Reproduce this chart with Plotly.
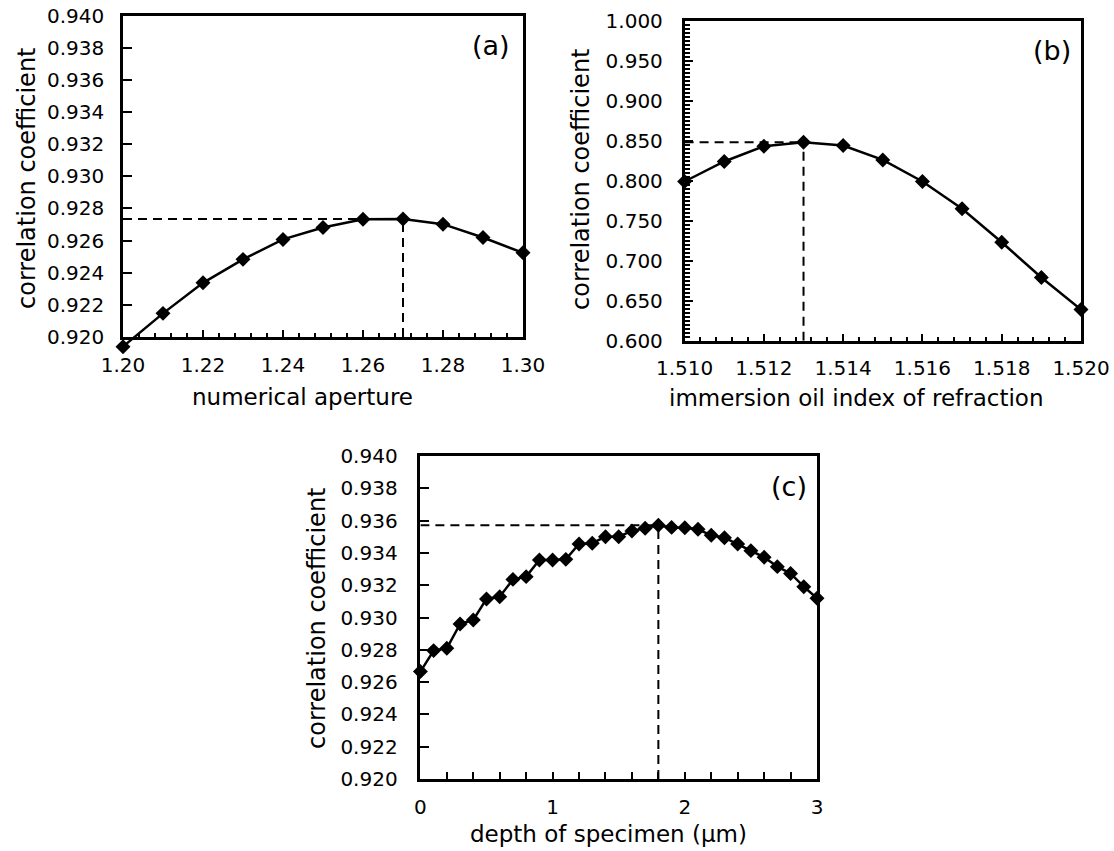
import plotly.graph_objects as go

# ---------------- data ----------------
na_x = [1.20, 1.21, 1.22, 1.23, 1.24, 1.25, 1.26, 1.27, 1.28, 1.29, 1.30]
na_r = [0.9194, 0.92147, 0.92337, 0.92483, 0.92607, 0.92681, 0.92733, 0.92734, 0.92702, 0.92619, 0.92524]
na_opt = (1.27, 0.92734)

oil_x = [1.510, 1.511, 1.512, 1.513, 1.514, 1.515, 1.516, 1.517, 1.518, 1.519, 1.520]
oil_r = [0.799, 0.824, 0.843, 0.848, 0.844, 0.826, 0.799, 0.765, 0.723, 0.679, 0.639]
oil_opt = (1.513, 0.848)

depth_x = [0.0, 0.1, 0.2, 0.3, 0.4, 0.5, 0.6, 0.7, 0.8, 0.9, 1.0,
           1.1, 1.2, 1.3, 1.4, 1.5, 1.6, 1.7, 1.8, 1.9, 2.0,
           2.1, 2.2, 2.3, 2.4, 2.5, 2.6, 2.7, 2.8, 2.9, 3.0]
depth_r = [0.92665, 0.92795, 0.92809, 0.9296, 0.92985, 0.93115, 0.93129, 0.93236, 0.93253, 0.93356, 0.93356,
           0.9336, 0.93455, 0.9346, 0.9350, 0.9350, 0.93536, 0.93552, 0.93571, 0.93558, 0.93556,
           0.93546, 0.93509, 0.93494, 0.93455, 0.93414, 0.93373, 0.93315, 0.93273, 0.93191, 0.93119]
depth_opt = (1.8, 0.93571)

panel_labels = ["(a)", "(b)", "(c)"]
x_titles = ["numerical aperture", "immersion oil index of refraction", "depth of specimen (µm)"]
y_title = "correlation coefficient"

# ---------------- layout helpers ----------------
W, H = 1114, 851
FONT = "DejaVu Sans"


def px_x(v):
    return v / W


def px_y(v):
    return 1 - v / H


# panel boxes in window pixels (left, right, top, bottom)
box_a = (123, 523, 15.5, 337)
box_b = (684.6, 1081, 20.7, 340.7)
box_c = (420.4, 817, 456, 779)
yr_a = [0.920, 0.940]
# hidden helper axis for panel (a): same scale, extended 22 px downwards so the
# first point (just below 0.920) stays visible like in the original figure
ext_px = 22
scale_a = (box_a[3] - box_a[2]) / (yr_a[1] - yr_a[0])
yr_a_ext = [yr_a[0] - ext_px / scale_a, yr_a[1]]

fig = go.Figure()

series = [(na_x, na_r, "x", "y4"), (oil_x, oil_r, "x2", "y2"), (depth_x, depth_r, "x3", "y3")]
for xs, ys, xa, ya in series:
    fig.add_trace(go.Scatter(
        x=xs, y=ys, xaxis=xa, yaxis=ya, mode="lines+markers",
        line=dict(color="black", width=2.5),
        marker=dict(symbol="diamond", size=11.5, color="black"),
        cliponaxis=False, showlegend=False, hoverinfo="x+y"))

# dashed guide lines to the optimum
for (ox, oy), xa, ya, x0, y0 in [(na_opt, "x", "y", 1.20, 0.920),
                                 (oil_opt, "x2", "y2", 1.510, 0.600),
                                 (depth_opt, "x3", "y3", 0.0, 0.920)]:
    fig.add_shape(type="line", xref=xa, yref=ya, x0=x0, x1=ox, y0=oy, y1=oy,
                  line=dict(color="black", width=2, dash="9px,6px"), layer="below")
    fig.add_shape(type="line", xref=xa, yref=ya, x0=ox, x1=ox, y0=y0, y1=oy,
                  line=dict(color="black", width=2, dash="9px,6px"), layer="below")

tickfont = dict(family=FONT, size=20, color="black")


def xax(box, rng, dtick, fmt, minor_dtick, minor_len, tick0, anchor):
    return dict(domain=[px_x(box[0]), px_x(box[1])], range=rng, dtick=dtick, tick0=tick0,
                tickformat=fmt, ticks="inside", ticklen=7, tickwidth=2, tickcolor="black",
                minor=dict(dtick=minor_dtick, tick0=tick0, ticks="inside", ticklen=minor_len,
                           tickwidth=2, tickcolor="black"),
                showline=True, linewidth=2.5, linecolor="black", mirror=True,
                showgrid=False, zeroline=False, tickfont=tickfont, ticklabelstandoff=8,
                automargin=False, fixedrange=True, anchor=anchor)


def yax(box, rng, dtick, fmt, anchor, standoff, minor_dtick=None):
    d = dict(domain=[px_y(box[3]), px_y(box[2])], range=rng, dtick=dtick, tick0=rng[0],
             tickformat=fmt, ticks="inside", ticklen=9, tickwidth=2, tickcolor="black",
             showline=True, linewidth=2.5, linecolor="black", mirror=True,
             showgrid=False, zeroline=False, tickfont=tickfont, ticklabelstandoff=standoff,
             automargin=False, anchor=anchor, fixedrange=True)
    if minor_dtick:
        d["minor"] = dict(dtick=minor_dtick, tick0=rng[0], ticks="inside", ticklen=6,
                          tickwidth=2, tickcolor="black")
    return d


fig.update_layout(
    width=W, height=H, margin=dict(l=0, r=0, t=0, b=0, autoexpand=False),
    paper_bgcolor="white", plot_bgcolor="rgba(0,0,0,0)", showlegend=False,
    font=dict(family=FONT, color="black"),
    xaxis=xax(box_a, [1.20, 1.30], 0.02, ".2f", 0.004, 4, 1.20, "y"),
    yaxis=yax(box_a, yr_a, 0.002, ".3f", "x", 12),
    yaxis4=dict(domain=[px_y(box_a[3] + ext_px), px_y(box_a[2])], range=yr_a_ext,
                visible=False, anchor="x", fixedrange=True, automargin=False),
    xaxis2=xax(box_b, [1.510, 1.520], 0.002, ".3f", 0.0004, 4, 1.510, "y2"),
    yaxis2=yax(box_b, [0.600, 1.000], 0.05, ".3f", "x2", 15, minor_dtick=0.005),
    xaxis3=xax(box_c, [0.0, 3.0], 1, "d", 0.2, 7, 0.0, "y3"),
    yaxis3=yax(box_c, [0.920, 0.940], 0.002, ".3f", "x3", 16),
)

# panel labels
for lab, xa, ya, xs in zip(panel_labels, ["x", "x2", "x3"], ["y", "y2", "y3"], [-11, -8, -8]):
    fig.add_annotation(text=lab, xref=f"{xa} domain", yref=f"{ya} domain", x=1, y=1,
                       xanchor="right", yanchor="middle", xshift=xs, yshift=-30,
                       showarrow=False, font=dict(family=FONT, size=27, color="black"))

# axis titles
for t, cx, cy in zip(x_titles, [302, 856, 608], [397, 398, 834]):
    fig.add_annotation(text=t, xref="paper", yref="paper", x=px_x(cx), y=px_y(cy),
                       xanchor="center", yanchor="middle", showarrow=False,
                       font=dict(family=FONT, size=23, color="black"))
for cx, cy in zip([27, 581, 317], [178, 179, 618]):
    fig.add_annotation(text=y_title, xref="paper", yref="paper", x=px_x(cx), y=px_y(cy),
                       xanchor="center", yanchor="middle", textangle=-90, showarrow=False,
                       font=dict(family=FONT, size=24, color="black"))

# remove the browser's default 8px page margin so the figure fills the window
fig.write_html("out.html", config={"displayModeBar": False},
               post_script="document.body.style.margin='0px';")
